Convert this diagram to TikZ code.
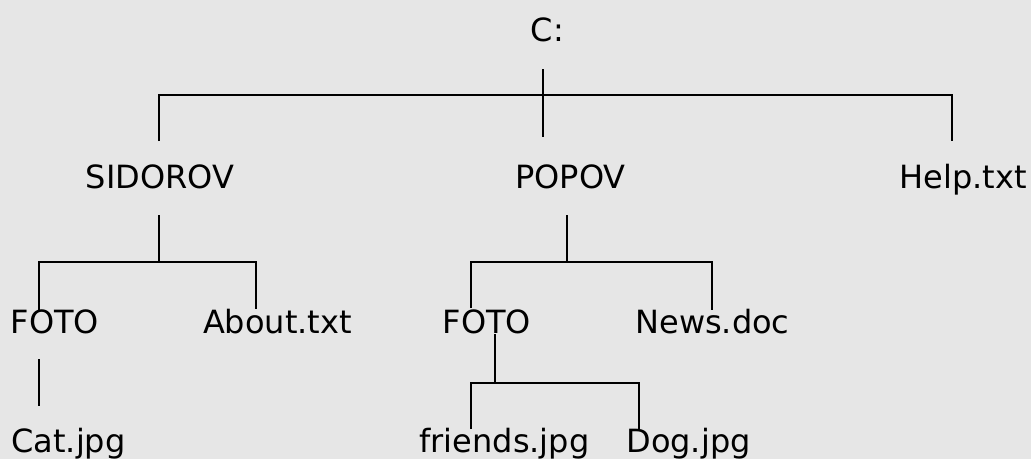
\documentclass[tikz,border=0pt]{standalone}
\usepackage{fontspec}
\setmainfont{DejaVu Sans}

\definecolor{paper}{RGB}{230,230,230}

\tikzset{
  entry/.style={inner sep=0pt, anchor=base, font=\fontsize{32}{38}\selectfont},
  branch/.style={line width=1.3pt, black}
}

\begin{document}
\begin{tikzpicture}[x=1pt, y=-1pt]

% Background and size
\fill[paper] (0,0) rectangle (1031,459);
\useasboundingbox (0,0) rectangle (1031,459);

% ===== Level 0 =====
\node[entry] (root) at (547.5,41) {C:};

% ===== Level 1 =====
\node[entry] (sidorov) at (160,188) {SIDOROV};
\node[entry] (popov) at (570.5,188) {POPOV};
\node[entry] (help) at (963,188) {Help.txt};

% ===== Level 2 =====
\node[entry] (foto1) at (55,333) {FOTO};
\node[entry] (about) at (277.5,333) {About.txt};
\node[entry] (foto2) at (487,333) {FOTO};
\node[entry] (news) at (712.5,333) {News.doc};

% ===== Level 3 =====
\node[entry] (cat) at (68.5,452) {Cat.jpg};
\node[entry] (friends) at (504.5,452) {friends.jpg};
\node[entry] (dog) at (688.5,452) {Dog.jpg};

% Ends of the connectors
\coordinate (root-out) at (543,69);
\coordinate (popov-in) at (543,137);
\coordinate (sidorov-in) at (159,141);
\coordinate (help-in) at (952,141);
\coordinate (sidorov-out) at (159,215);
\coordinate (popov-out) at (567,215);
\coordinate (foto1-in) at (39,310);
\coordinate (about-in) at (256,309);
\coordinate (foto2-in) at (471,308);
\coordinate (news-in) at (712,310);
\coordinate (foto1-out) at (39,359);
\coordinate (cat-in) at (39,406);
\coordinate (foto2-out) at (495,334);
\coordinate (friends-in) at (471,429);
\coordinate (dog-in) at (639,429);

% C: -> SIDOROV, POPOV, Help.txt
\draw[branch] (root-out) -- (popov-in);
\draw[branch] (sidorov-in) -- ++(0,-46) -| (help-in);

% SIDOROV -> FOTO, About.txt
\draw[branch] (sidorov-out) -- ++(0,47);
\draw[branch] (foto1-in) -- ++(0,-48) -| (about-in);

% FOTO -> Cat.jpg
\draw[branch] (foto1-out) -- (cat-in);

% POPOV -> FOTO, News.doc
\draw[branch] (popov-out) -- ++(0,47);
\draw[branch] (foto2-in) -- ++(0,-46) -| (news-in);

% FOTO -> friends.jpg, Dog.jpg
\draw[branch] (foto2-out) -- ++(0,49);
\draw[branch] (friends-in) -- ++(0,-46) -| (dog-in);

\end{tikzpicture}
\end{document}
